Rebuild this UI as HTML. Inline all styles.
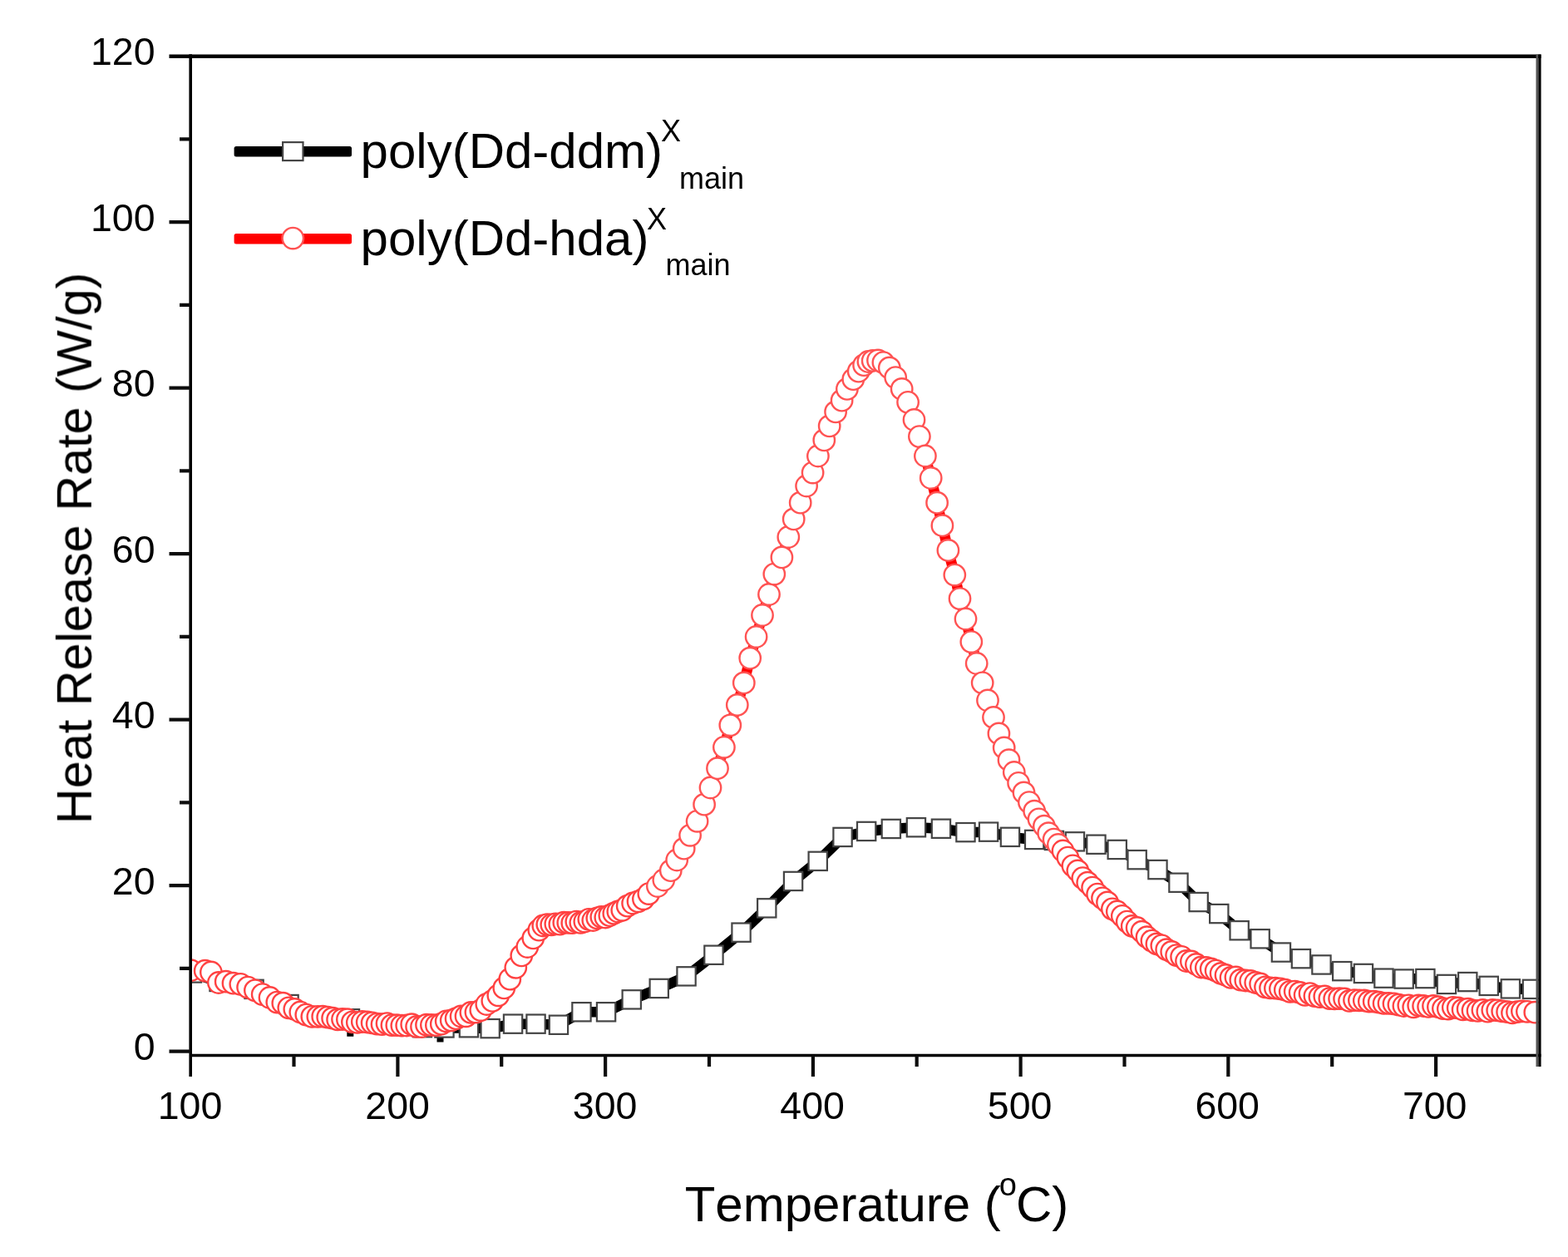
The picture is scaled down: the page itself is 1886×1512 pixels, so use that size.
<!DOCTYPE html>
<html lang="en"><head><meta charset="utf-8"><title>Heat Release Rate vs Temperature</title>
<style>
html,body{margin:0;padding:0;background:#fff;}
body{width:1886px;height:1512px;overflow:hidden;}
svg{display:block;}
text{font-family:"Liberation Sans", sans-serif;fill:#000;font-kerning:none;}
.ax{stroke:#000;stroke-width:3.6;fill:none;stroke-linecap:butt;}
.tk{stroke:#111;stroke-width:4.2;fill:none;}
.bl{stroke:#000;stroke-width:12.6;fill:none;stroke-linejoin:round;}
.rl{stroke:#f00;stroke-width:12.6;fill:none;stroke-linejoin:round;}
.sq{fill:#fff;stroke:#444;stroke-width:2.2;}
.rc{fill:#fff;stroke:#ff5252;stroke-width:2.4;}
.rd{fill:#fff;stroke:#ff4242;stroke-width:2.4;}
.tl{font-size:46.5px;}
.at{font-size:60px;}
.lg{font-size:60px;}
.yt{font-size:59.4px;}
</style></head><body>
<svg width="1886" height="1512" viewBox="0 0 1886 1512" role="img" aria-label="Heat release rate versus temperature">
<defs>
<filter id="soft" x="-2%" y="-2%" width="104%" height="104%"><feGaussianBlur stdDeviation="0.6"/></filter>
<clipPath id="plot"><rect x="229.2" y="67.6" width="1621.5" height="1201.9"/></clipPath>
<rect id="s" x="-11.2" y="-11.2" width="22.3" height="22.3" class="sq"/>
<circle id="c" r="12.7" class="rc"/>
<circle id="d" r="12.7" class="rd"/>
</defs>
<rect width="1886" height="1512" fill="#fff"/>
<g filter="url(#soft)">
<g clip-path="url(#plot)">
<polyline class="bl" points="231,1170.5 263.6,1181 305.6,1189.9 347.6,1208.1 384,1223.5 421,1225.3 458,1231 482,1233 508,1236.2 534.5,1236.5 564,1236.3 589.7,1237.2 617.1,1231.7 644.6,1231.7 672,1232.8 699.5,1217.3 729.1,1217.3 759.8,1202.4 792.8,1189 825.6,1174.4 858.5,1148.8 891.6,1121.7 922.3,1092.4 954.1,1060 983.8,1035.9 1013.6,1007 1042.2,1000 1071.9,997 1102,995.3 1132,996.8 1161.5,1001.2 1189.1,1000.7 1215,1006.9 1244.2,1010 1268,1011 1293,1012.4 1318.5,1015.8 1343.8,1022 1367.7,1034.2 1392.5,1046.1 1417.5,1061.8 1441.7,1085.1 1466.3,1099.1 1490.7,1119.3 1515.7,1129.3 1541,1145.6 1565,1153.2 1589.5,1160.5 1614.3,1168.2 1640,1171 1664.5,1176.7 1688.7,1177.6 1714.4,1177.1 1740,1184 1765.3,1181.1 1790.8,1185.9 1816.9,1189.4 1843,1189.9"/>
<path class="bl" d="M417.3 1240.5h8M525.5 1247.2h8"/>
<g><use href="#s" x="231" y="1170.5"/><use href="#s" x="263.6" y="1181"/><use href="#s" x="305.6" y="1189.9"/><use href="#s" x="347.6" y="1208.1"/><use href="#s" x="384" y="1223.5"/><use href="#s" x="421" y="1225.3"/><use href="#s" x="458" y="1231"/><use href="#s" x="482" y="1233"/><use href="#s" x="508" y="1236.2"/><use href="#s" x="534.5" y="1236.5"/><use href="#s" x="564" y="1236.3"/><use href="#s" x="589.7" y="1237.2"/><use href="#s" x="617.1" y="1231.7"/><use href="#s" x="644.6" y="1231.7"/><use href="#s" x="672" y="1232.8"/><use href="#s" x="699.5" y="1217.3"/><use href="#s" x="729.1" y="1217.3"/><use href="#s" x="759.8" y="1202.4"/><use href="#s" x="792.8" y="1189"/><use href="#s" x="825.6" y="1174.4"/><use href="#s" x="858.5" y="1148.8"/><use href="#s" x="891.6" y="1121.7"/><use href="#s" x="922.3" y="1092.4"/><use href="#s" x="954.1" y="1060"/><use href="#s" x="983.8" y="1035.9"/><use href="#s" x="1013.6" y="1007"/><use href="#s" x="1042.2" y="1000"/><use href="#s" x="1071.9" y="997"/><use href="#s" x="1102" y="995.3"/><use href="#s" x="1132" y="996.8"/><use href="#s" x="1161.5" y="1001.2"/><use href="#s" x="1189.1" y="1000.7"/><use href="#s" x="1215" y="1006.9"/><use href="#s" x="1244.2" y="1010"/><use href="#s" x="1268" y="1011"/><use href="#s" x="1293" y="1012.4"/><use href="#s" x="1318.5" y="1015.8"/><use href="#s" x="1343.8" y="1022"/><use href="#s" x="1367.7" y="1034.2"/><use href="#s" x="1392.5" y="1046.1"/><use href="#s" x="1417.5" y="1061.8"/><use href="#s" x="1441.7" y="1085.1"/><use href="#s" x="1466.3" y="1099.1"/><use href="#s" x="1490.7" y="1119.3"/><use href="#s" x="1515.7" y="1129.3"/><use href="#s" x="1541" y="1145.6"/><use href="#s" x="1565" y="1153.2"/><use href="#s" x="1589.5" y="1160.5"/><use href="#s" x="1614.3" y="1168.2"/><use href="#s" x="1640" y="1171"/><use href="#s" x="1664.5" y="1176.7"/><use href="#s" x="1688.7" y="1177.6"/><use href="#s" x="1714.4" y="1177.1"/><use href="#s" x="1740" y="1184"/><use href="#s" x="1765.3" y="1181.1"/><use href="#s" x="1790.8" y="1185.9"/><use href="#s" x="1816.9" y="1189.4"/><use href="#s" x="1843" y="1189.9"/></g>
<polyline class="rl" points="229.5,1167.2 246.7,1167.7 253.9,1169.5 262.9,1182 271.7,1180.7 280.5,1182.7 289.3,1183.8 298.1,1187.6 306.9,1191.3 315.7,1196.1 324.5,1200 333.3,1205.6 340.3,1206.7 347.3,1212.3 354.3,1213.9 361.3,1217.5 368.3,1220.6 375.3,1222.8 382.3,1222.8 388.2,1222.7 394.2,1223.6 400.1,1224.7 406.1,1226.4 412,1226 417.9,1226.2 423.9,1229.3 429.8,1229.8 435.8,1229 441.7,1229.5 447.6,1230.3 453.6,1231.6 459.5,1232.1 465.5,1231.1 471.4,1233.1 477.3,1233.2 483.3,1233.6 489.2,1233.5 495.2,1232.2 501.1,1234.9 507,1235 513,1232.7 518.9,1233 524.9,1233.2 530.8,1231.7 536.7,1228.3 542.7,1227.3 548.6,1225.2 554.6,1222.5 560.5,1222.3 566.4,1217.9 572.4,1217.6 578.3,1215.1 585.3,1208 592.3,1203.9 599.3,1197.3 606.3,1188.4 613.3,1177.7 620.3,1163.8 627.3,1149.4 634.3,1139 641.3,1128.4 648.3,1118.7 653.3,1113.5 658.3,1112.1 663.3,1112.3 668.3,1111.3 673.3,1111.7 678.3,1109.7 683.3,1109.9 688.3,1110.2 693.3,1108.6 698.3,1109.8 703.3,1108.5 708.3,1105.8 713.3,1107 718.3,1104.3 723.3,1102.9 728.3,1103.5 733.3,1101.2 738.3,1098.7 743.3,1096.5 748.3,1094.8 754.7,1089.7 761.1,1086.5 767.5,1084.3 773.9,1081.3 780.3,1075.1 790.9,1066 798.3,1058.5 806.8,1047.2 814.2,1034.5 822.7,1020.7 830.1,1004.8 838.6,987.8 847.1,967.7 854.5,947.5 863,924.2 870.9,898.8 878.3,872.3 886.8,847.9 894.8,821.4 902.2,791.7 909.6,766 917,740 925,715 931.3,690.6 940.4,670.4 948.3,646 954.7,624.4 962.7,604.7 970.1,584.5 977.6,568.6 983.9,548.5 991.3,529.4 997.7,512.4 1005.1,495.4 1012.6,481.7 1018.9,467.9 1026.3,456.2 1032.7,446.7 1039.1,439.2 1044.4,435 1049.7,433.9 1056,433.5 1062.4,436.1 1069.8,442.4 1077.2,454.1 1084.7,467.9 1092.1,483.8 1099.5,505 1105.9,525.1 1112.9,548.5 1119.7,575 1127.1,604.7 1133.4,632.2 1140.4,661.9 1148.3,691.6 1154.5,720.1 1161.5,744.5 1168.3,772.1 1174.7,798 1181.7,821.3 1188,842.5 1195,862.9 1201.4,882.4 1207.7,899.4 1213.5,914.2 1219.8,929 1225.1,941.8 1231.5,953.4 1237.9,965.1 1244.2,975.7 1249.5,985.3 1255.9,993.7 1261.2,1002.2 1267.6,1009.6 1272.9,1016 1278.5,1023.5 1284.4,1031.6 1290.4,1041.3 1296.3,1047.4 1302.3,1056.1 1308.2,1061.7 1314.1,1067.6 1320.1,1075.6 1326,1080.3 1332,1085.4 1337.9,1093.3 1343.8,1096.5 1349.8,1101.8 1355.7,1108.6 1361.7,1113.9 1367.6,1116 1373.5,1120.7 1379.5,1127.2 1385.4,1131.6 1391.4,1135.4 1397.3,1137.3 1403.2,1142.2 1409.2,1144.9 1415.1,1149.1 1421.1,1150.8 1427,1156 1432.9,1156.5 1438.9,1160 1444.8,1163.5 1450.8,1164 1456.7,1165.4 1462.6,1167.6 1468.6,1170.9 1474.5,1173 1480.5,1175.9 1486.4,1175.5 1492.3,1178.7 1498.3,1179.5 1504.2,1180 1510.2,1182 1516.1,1183.5 1522,1187.3 1528,1188.3 1533.9,1188.7 1539.9,1189.3 1545.8,1190.7 1551.7,1192.8 1557.7,1192.6 1563.6,1193.9 1569.6,1196.8 1575.5,1195.1 1581.4,1198.1 1587.4,1199.1 1593.3,1198.4 1599.3,1201.1 1605.2,1201.4 1611.1,1201.2 1617.1,1201.4 1623,1203.9 1629,1203.1 1634.9,1203.3 1640.8,1203.5 1646.8,1204.7 1652.7,1204.7 1658.7,1205.7 1664.6,1206.9 1670.5,1206.9 1676.5,1207.3 1682.4,1208.6 1688.4,1210 1694.3,1209.3 1700.2,1211.3 1706.2,1209.4 1712.1,1210 1718.1,1210.9 1724,1210 1729.9,1211.2 1735.9,1213.1 1741.8,1213.6 1747.8,1211.8 1753.7,1212.4 1759.6,1214.4 1765.6,1213.7 1771.5,1215.4 1777.5,1215.9 1783.4,1215 1789.3,1216.7 1795.3,1215 1801.2,1215.3 1807.2,1216.3 1813.1,1217.2 1819,1218.3 1825,1217.2 1830.9,1216.3 1836.9,1216.8 1846.3,1217.7"/>
<g><use href="#d" x="229.5" y="1167.2"/><use href="#d" x="246.7" y="1167.7"/><use href="#d" x="253.9" y="1169.5"/><use href="#d" x="262.9" y="1182"/><use href="#d" x="271.7" y="1180.7"/><use href="#d" x="280.5" y="1182.7"/><use href="#d" x="289.3" y="1183.8"/><use href="#d" x="298.1" y="1187.6"/><use href="#d" x="306.9" y="1191.3"/><use href="#d" x="315.7" y="1196.1"/><use href="#d" x="324.5" y="1200"/><use href="#d" x="333.3" y="1205.6"/><use href="#d" x="340.3" y="1206.7"/><use href="#d" x="347.3" y="1212.3"/><use href="#d" x="354.3" y="1213.9"/><use href="#d" x="361.3" y="1217.5"/><use href="#d" x="368.3" y="1220.6"/><use href="#d" x="375.3" y="1222.8"/><use href="#d" x="382.3" y="1222.8"/><use href="#d" x="388.2" y="1222.7"/><use href="#d" x="394.2" y="1223.6"/><use href="#d" x="400.1" y="1224.7"/><use href="#d" x="406.1" y="1226.4"/><use href="#d" x="412" y="1226"/><use href="#d" x="417.9" y="1226.2"/><use href="#d" x="423.9" y="1229.3"/><use href="#d" x="429.8" y="1229.8"/><use href="#d" x="435.8" y="1229"/><use href="#d" x="441.7" y="1229.5"/><use href="#d" x="447.6" y="1230.3"/><use href="#d" x="453.6" y="1231.6"/><use href="#d" x="459.5" y="1232.1"/><use href="#d" x="465.5" y="1231.1"/><use href="#d" x="471.4" y="1233.1"/><use href="#d" x="477.3" y="1233.2"/><use href="#d" x="483.3" y="1233.6"/><use href="#d" x="489.2" y="1233.5"/><use href="#d" x="495.2" y="1232.2"/><use href="#d" x="501.1" y="1234.9"/><use href="#d" x="507" y="1235"/><use href="#d" x="513" y="1232.7"/><use href="#d" x="518.9" y="1233"/><use href="#d" x="524.9" y="1233.2"/><use href="#d" x="530.8" y="1231.7"/><use href="#d" x="536.7" y="1228.3"/><use href="#d" x="542.7" y="1227.3"/><use href="#d" x="548.6" y="1225.2"/><use href="#d" x="554.6" y="1222.5"/><use href="#d" x="560.5" y="1222.3"/><use href="#d" x="566.4" y="1217.9"/><use href="#d" x="572.4" y="1217.6"/><use href="#d" x="578.3" y="1215.1"/><use href="#d" x="585.3" y="1208"/><use href="#d" x="592.3" y="1203.9"/><use href="#d" x="599.3" y="1197.3"/><use href="#d" x="606.3" y="1188.4"/><use href="#d" x="613.3" y="1177.7"/><use href="#d" x="620.3" y="1163.8"/><use href="#d" x="627.3" y="1149.4"/><use href="#d" x="634.3" y="1139"/><use href="#d" x="641.3" y="1128.4"/><use href="#d" x="648.3" y="1118.7"/><use href="#d" x="653.3" y="1113.5"/><use href="#d" x="658.3" y="1112.1"/><use href="#d" x="663.3" y="1112.3"/><use href="#d" x="668.3" y="1111.3"/><use href="#d" x="673.3" y="1111.7"/><use href="#d" x="678.3" y="1109.7"/><use href="#d" x="683.3" y="1109.9"/><use href="#d" x="688.3" y="1110.2"/><use href="#d" x="693.3" y="1108.6"/><use href="#d" x="698.3" y="1109.8"/><use href="#d" x="703.3" y="1108.5"/><use href="#d" x="708.3" y="1105.8"/><use href="#d" x="713.3" y="1107"/><use href="#d" x="718.3" y="1104.3"/><use href="#d" x="723.3" y="1102.9"/><use href="#d" x="728.3" y="1103.5"/><use href="#d" x="733.3" y="1101.2"/><use href="#d" x="738.3" y="1098.7"/><use href="#d" x="743.3" y="1096.5"/><use href="#d" x="748.3" y="1094.8"/><use href="#d" x="754.7" y="1089.7"/><use href="#d" x="761.1" y="1086.5"/><use href="#d" x="767.5" y="1084.3"/><use href="#d" x="773.9" y="1081.3"/><use href="#d" x="780.3" y="1075.1"/><use href="#c" x="790.9" y="1066"/><use href="#c" x="798.3" y="1058.5"/><use href="#c" x="806.8" y="1047.2"/><use href="#c" x="814.2" y="1034.5"/><use href="#c" x="822.7" y="1020.7"/><use href="#c" x="830.1" y="1004.8"/><use href="#c" x="838.6" y="987.8"/><use href="#c" x="847.1" y="967.7"/><use href="#c" x="854.5" y="947.5"/><use href="#c" x="863" y="924.2"/><use href="#c" x="870.9" y="898.8"/><use href="#c" x="878.3" y="872.3"/><use href="#c" x="886.8" y="847.9"/><use href="#c" x="894.8" y="821.4"/><use href="#c" x="902.2" y="791.7"/><use href="#c" x="909.6" y="766"/><use href="#c" x="917" y="740"/><use href="#c" x="925" y="715"/><use href="#c" x="931.3" y="690.6"/><use href="#c" x="940.4" y="670.4"/><use href="#c" x="948.3" y="646"/><use href="#c" x="954.7" y="624.4"/><use href="#c" x="962.7" y="604.7"/><use href="#c" x="970.1" y="584.5"/><use href="#c" x="977.6" y="568.6"/><use href="#c" x="983.9" y="548.5"/><use href="#c" x="991.3" y="529.4"/><use href="#c" x="997.7" y="512.4"/><use href="#c" x="1005.1" y="495.4"/><use href="#c" x="1012.6" y="481.7"/><use href="#c" x="1018.9" y="467.9"/><use href="#c" x="1026.3" y="456.2"/><use href="#c" x="1032.7" y="446.7"/><use href="#c" x="1039.1" y="439.2"/><use href="#c" x="1044.4" y="435"/><use href="#c" x="1049.7" y="433.9"/><use href="#c" x="1056" y="433.5"/><use href="#c" x="1062.4" y="436.1"/><use href="#c" x="1069.8" y="442.4"/><use href="#c" x="1077.2" y="454.1"/><use href="#c" x="1084.7" y="467.9"/><use href="#c" x="1092.1" y="483.8"/><use href="#c" x="1099.5" y="505"/><use href="#c" x="1105.9" y="525.1"/><use href="#c" x="1112.9" y="548.5"/><use href="#c" x="1119.7" y="575"/><use href="#c" x="1127.1" y="604.7"/><use href="#c" x="1133.4" y="632.2"/><use href="#c" x="1140.4" y="661.9"/><use href="#c" x="1148.3" y="691.6"/><use href="#c" x="1154.5" y="720.1"/><use href="#c" x="1161.5" y="744.5"/><use href="#c" x="1168.3" y="772.1"/><use href="#c" x="1174.7" y="798"/><use href="#c" x="1181.7" y="821.3"/><use href="#c" x="1188" y="842.5"/><use href="#c" x="1195" y="862.9"/><use href="#c" x="1201.4" y="882.4"/><use href="#c" x="1207.7" y="899.4"/><use href="#c" x="1213.5" y="914.2"/><use href="#c" x="1219.8" y="929"/><use href="#c" x="1225.1" y="941.8"/><use href="#c" x="1231.5" y="953.4"/><use href="#c" x="1237.9" y="965.1"/><use href="#c" x="1244.2" y="975.7"/><use href="#c" x="1249.5" y="985.3"/><use href="#c" x="1255.9" y="993.7"/><use href="#c" x="1261.2" y="1002.2"/><use href="#c" x="1267.6" y="1009.6"/><use href="#c" x="1272.9" y="1016"/><use href="#d" x="1278.5" y="1023.5"/><use href="#d" x="1284.4" y="1031.6"/><use href="#d" x="1290.4" y="1041.3"/><use href="#d" x="1296.3" y="1047.4"/><use href="#d" x="1302.3" y="1056.1"/><use href="#d" x="1308.2" y="1061.7"/><use href="#d" x="1314.1" y="1067.6"/><use href="#d" x="1320.1" y="1075.6"/><use href="#d" x="1326" y="1080.3"/><use href="#d" x="1332" y="1085.4"/><use href="#d" x="1337.9" y="1093.3"/><use href="#d" x="1343.8" y="1096.5"/><use href="#d" x="1349.8" y="1101.8"/><use href="#d" x="1355.7" y="1108.6"/><use href="#d" x="1361.7" y="1113.9"/><use href="#d" x="1367.6" y="1116"/><use href="#d" x="1373.5" y="1120.7"/><use href="#d" x="1379.5" y="1127.2"/><use href="#d" x="1385.4" y="1131.6"/><use href="#d" x="1391.4" y="1135.4"/><use href="#d" x="1397.3" y="1137.3"/><use href="#d" x="1403.2" y="1142.2"/><use href="#d" x="1409.2" y="1144.9"/><use href="#d" x="1415.1" y="1149.1"/><use href="#d" x="1421.1" y="1150.8"/><use href="#d" x="1427" y="1156"/><use href="#d" x="1432.9" y="1156.5"/><use href="#d" x="1438.9" y="1160"/><use href="#d" x="1444.8" y="1163.5"/><use href="#d" x="1450.8" y="1164"/><use href="#d" x="1456.7" y="1165.4"/><use href="#d" x="1462.6" y="1167.6"/><use href="#d" x="1468.6" y="1170.9"/><use href="#d" x="1474.5" y="1173"/><use href="#d" x="1480.5" y="1175.9"/><use href="#d" x="1486.4" y="1175.5"/><use href="#d" x="1492.3" y="1178.7"/><use href="#d" x="1498.3" y="1179.5"/><use href="#d" x="1504.2" y="1180"/><use href="#d" x="1510.2" y="1182"/><use href="#d" x="1516.1" y="1183.5"/><use href="#d" x="1522" y="1187.3"/><use href="#d" x="1528" y="1188.3"/><use href="#d" x="1533.9" y="1188.7"/><use href="#d" x="1539.9" y="1189.3"/><use href="#d" x="1545.8" y="1190.7"/><use href="#d" x="1551.7" y="1192.8"/><use href="#d" x="1557.7" y="1192.6"/><use href="#d" x="1563.6" y="1193.9"/><use href="#d" x="1569.6" y="1196.8"/><use href="#d" x="1575.5" y="1195.1"/><use href="#d" x="1581.4" y="1198.1"/><use href="#d" x="1587.4" y="1199.1"/><use href="#d" x="1593.3" y="1198.4"/><use href="#d" x="1599.3" y="1201.1"/><use href="#d" x="1605.2" y="1201.4"/><use href="#d" x="1611.1" y="1201.2"/><use href="#d" x="1617.1" y="1201.4"/><use href="#d" x="1623" y="1203.9"/><use href="#d" x="1629" y="1203.1"/><use href="#d" x="1634.9" y="1203.3"/><use href="#d" x="1640.8" y="1203.5"/><use href="#d" x="1646.8" y="1204.7"/><use href="#d" x="1652.7" y="1204.7"/><use href="#d" x="1658.7" y="1205.7"/><use href="#d" x="1664.6" y="1206.9"/><use href="#d" x="1670.5" y="1206.9"/><use href="#d" x="1676.5" y="1207.3"/><use href="#d" x="1682.4" y="1208.6"/><use href="#d" x="1688.4" y="1210"/><use href="#d" x="1694.3" y="1209.3"/><use href="#d" x="1700.2" y="1211.3"/><use href="#d" x="1706.2" y="1209.4"/><use href="#d" x="1712.1" y="1210"/><use href="#d" x="1718.1" y="1210.9"/><use href="#d" x="1724" y="1210"/><use href="#d" x="1729.9" y="1211.2"/><use href="#d" x="1735.9" y="1213.1"/><use href="#d" x="1741.8" y="1213.6"/><use href="#d" x="1747.8" y="1211.8"/><use href="#d" x="1753.7" y="1212.4"/><use href="#d" x="1759.6" y="1214.4"/><use href="#d" x="1765.6" y="1213.7"/><use href="#d" x="1771.5" y="1215.4"/><use href="#d" x="1777.5" y="1215.9"/><use href="#d" x="1783.4" y="1215"/><use href="#d" x="1789.3" y="1216.7"/><use href="#d" x="1795.3" y="1215"/><use href="#d" x="1801.2" y="1215.3"/><use href="#d" x="1807.2" y="1216.3"/><use href="#d" x="1813.1" y="1217.2"/><use href="#d" x="1819" y="1218.3"/><use href="#d" x="1825" y="1217.2"/><use href="#d" x="1830.9" y="1216.3"/><use href="#d" x="1836.9" y="1216.8"/><use href="#d" x="1846.3" y="1217.7"/></g>
</g>
<g>
<path class="ax" d="M229.2 65.2 V1295"/>
<path class="ax" d="M229.2 1269.5 H1853.6"/>
<path class="ax" d="M203.5 67.7 H1853.6" style="stroke-width:4.6"/>
<path d="M1849 65.6 V1283" style="stroke:#555;stroke-width:3;fill:none"/>
<path d="M1852 65.6 V1283" style="stroke:#000;stroke-width:3.2;fill:none"/>
<path class="tk" d="M203.5 1264.6 H229.2 M203.5 1065.1 H229.2 M203.5 865.6 H229.2 M203.5 666.1 H229.2 M203.5 466.6 H229.2 M203.5 267.1 H229.2 M216 1164.8 H229.2 M216 965.4 H229.2 M216 765.9 H229.2 M216 566.4 H229.2 M216 366.9 H229.2 M216 167.3 H229.2 M478.4 1269.5 V1295 M728.1 1269.5 V1295 M977.9 1269.5 V1295 M1227.6 1269.5 V1295 M1477.3 1269.5 V1295 M1727.1 1269.5 V1295 M353.5 1269.5 V1283 M603.2 1269.5 V1283 M853 1269.5 V1283 M1102.7 1269.5 V1283 M1352.5 1269.5 V1283 M1602.2 1269.5 V1283"/>
</g>
<g class="tl" text-anchor="end">
<text x="186.6" y="1275.3">0</text>
<text x="186.6" y="1075.8">20</text>
<text x="186.6" y="876.3">40</text>
<text x="186.6" y="676.8">60</text>
<text x="186.6" y="477.3">80</text>
<text x="186.6" y="277.8">100</text>
<text x="186.6" y="78.3">120</text>
</g>
<g class="tl" text-anchor="middle">
<text x="228.5" y="1345.7">100</text>
<text x="478.1" y="1345.7">200</text>
<text x="727.6" y="1345.7">300</text>
<text x="977.1" y="1345.7">400</text>
<text x="1226.6" y="1345.7">500</text>
<text x="1476.2" y="1345.7">600</text>
<text x="1725.7" y="1345.7">700</text>
</g>
<text class="at" text-anchor="middle" x="1054.5" y="1469">Temperature (<tspan font-size="38" dx="-2" dy="-31.5">o</tspan><tspan dx="-1" dy="31.5">C)</tspan></text>
<text class="yt" text-anchor="middle" transform="translate(109.8 659.5) rotate(-90)">Heat Release Rate (W/g)</text>
<g>
<rect x="281.6" y="176.1" width="141.4" height="12.3" rx="2.5" fill="#000"/>
<rect class="sq" x="340.1" y="171.1" width="24.4" height="22"/>
<rect x="281.6" y="281.1" width="141.4" height="12.3" rx="2.5" fill="#f00"/>
<use href="#c" x="352.3" y="286.6"/>
<text class="lg" x="433.6" y="201.7">poly(Dd-ddm)<tspan font-size="36" dx="-2" dy="-31.7">X</tspan><tspan font-size="36" dx="-2" dy="56.5">main</tspan></text>
<text class="lg" x="433.6" y="307.2">poly(Dd-hda)<tspan font-size="36" dx="-2.5" dy="-31.7">X</tspan><tspan font-size="36" dx="-1.5" dy="55.5">main</tspan></text>
</g>
</g>
</svg>
</body></html>
